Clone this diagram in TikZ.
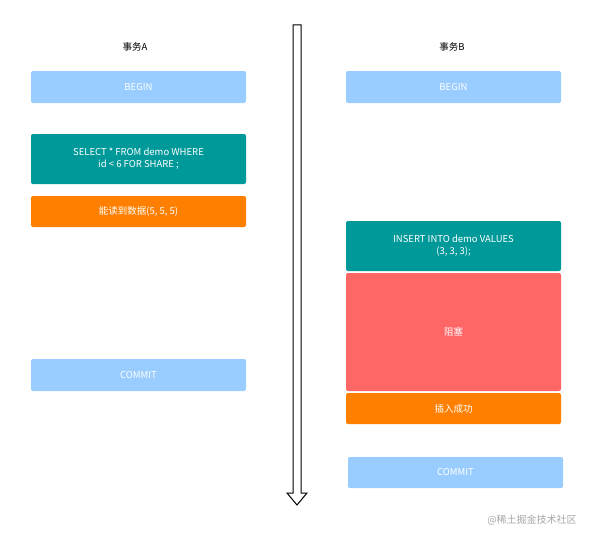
\documentclass[tikz,border=0pt]{standalone}
\usepackage{fontspec}
\setmainfont{Noto Sans CJK SC}
\begin{document}
\begin{tikzpicture}[x=1pt,y=-1pt,
  box/.style={rounded corners=2pt,text=white,font=\fontsize{9.5}{12}\selectfont,align=center,inner sep=0pt,minimum width=215pt},
  lb/.style={box,fill=lb},
  tl/.style={box,fill=tl},
  og/.style={box,fill=og},
  rd/.style={box,fill=rd}]
\definecolor{lb}{HTML}{99CCFF}
\definecolor{tl}{HTML}{009999}
\definecolor{og}{HTML}{FF8000}
\definecolor{rd}{HTML}{FF6666}
\useasboundingbox (0,0) rectangle (604,543);
\node[font=\fontsize{9.5}{12}\selectfont] (ta) at (135,47) {事务A};
\node[font=\fontsize{9.5}{12}\selectfont] (tb) at (452,47) {事务B};
\node[lb,minimum height=32pt] (ba) at (138.5,87) {BEGIN};
\node[lb,minimum height=32pt] (bb) at (453.5,87) {BEGIN};
\node[tl,minimum height=50pt] (sel) at (138.5,159) {SELECT * FROM demo WHERE\\id < 6 FOR SHARE ;};
\node[og,minimum height=31pt] (rd5) at (138.5,211.5) {能读到数据(5, 5, 5)};
\node[lb,minimum height=32pt] (ca) at (138.5,375) {COMMIT};
\node[tl,minimum height=50pt] (ins) at (453.5,246) {INSERT INTO demo VALUES\\(3, 3, 3);};
\node[rd,minimum height=118pt] (blk) at (453.5,332) {阻塞};
\node[og,minimum height=31pt] (ok) at (453.5,408.5) {插入成功};
\node[lb,minimum height=31pt] (cb) at (455.5,472.5) {COMMIT};
\draw[line width=1pt,fill=white] (293,25) -- (301,25) -- (301,493) -- (307,493) -- (297,505) -- (287,493) -- (293,493) -- cycle;
\node[text=gray!70,font=\fontsize{10}{12}\selectfont] (wm) at (532,520) {@稀土掘金技术社区};
\end{tikzpicture}
\end{document}
